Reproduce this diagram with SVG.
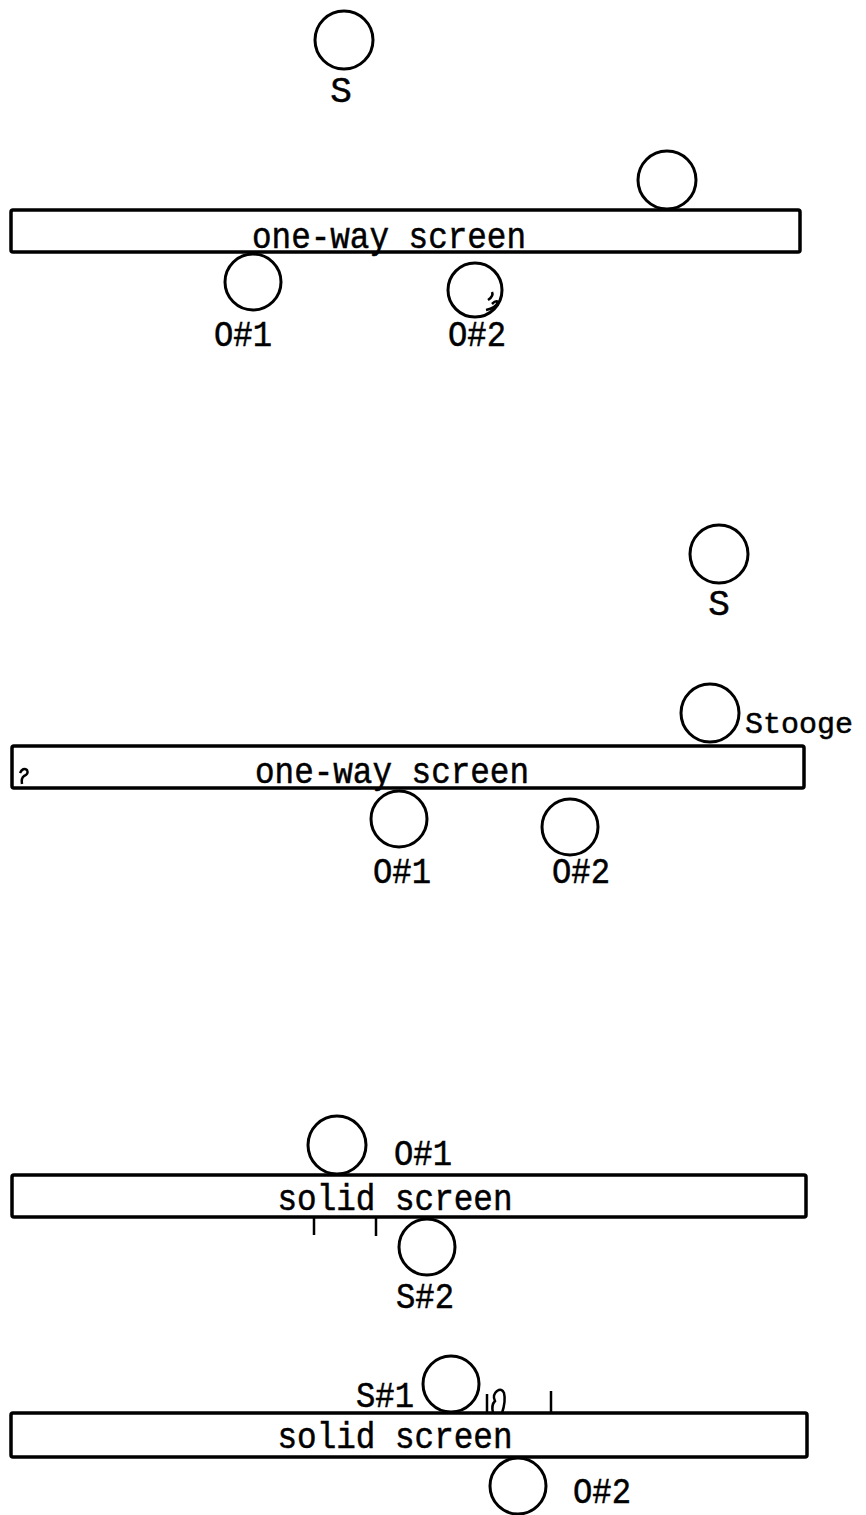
<svg xmlns="http://www.w3.org/2000/svg" width="866" height="1515" viewBox="0 0 866 1515">
<style>
.c{fill:none;stroke:#000;stroke-width:3}
.s{fill:#fff;stroke:#000;stroke-width:3.5}
.t{font-family:"Liberation Mono","Courier New",monospace;font-size:36px;fill:#000;stroke:#000;stroke-width:0.5;text-anchor:middle}
.m{fill:none;stroke:#000;stroke-width:2.5}
</style>
<rect width="866" height="1515" fill="#fff"/>
<g id="panel1">
  <g id="p1-screen"><rect class="s" x="11" y="210" width="789" height="42" rx="2"/><text class="t" x="389" y="248" textLength="274" lengthAdjust="spacingAndGlyphs">one-way screen</text></g>
  <g id="p1-S"><circle class="c" cx="344" cy="40" r="29"/><text class="t" x="341" y="102">S</text></g>
  <g id="p1-top"><circle class="c" cx="667" cy="180" r="29"/></g>
  <g id="p1-O1"><circle class="c" cx="253" cy="282" r="28"/><text class="t" x="243" y="346" textLength="58" lengthAdjust="spacingAndGlyphs">O#1</text></g>
  <g id="p1-O2"><circle class="c" cx="475" cy="290" r="27"/><path class="m" d="M488 300 q6 -4 4 -8 M486 310 q10 -2 12 -8 q-2 -2 -6 2" stroke-width="1.2"/><text class="t" x="477" y="346" textLength="58" lengthAdjust="spacingAndGlyphs">O#2</text></g>
</g>
<g id="panel2">
  <g id="p2-screen"><rect class="s" x="12" y="746" width="792" height="42" rx="2"/><text class="t" x="392" y="783" textLength="274" lengthAdjust="spacingAndGlyphs">one-way screen</text><path class="m" d="M20 773 q3 -6 7 -3 q2 4 -3 6 q-3 2 -2 8" stroke-width="1.5"/></g>
  <g id="p2-S"><circle class="c" cx="719" cy="554" r="29"/><text class="t" x="719" y="615">S</text></g>
  <g id="p2-stooge"><circle class="c" cx="710" cy="713" r="29"/><text class="t" x="745" y="733" style="font-size:30px;text-anchor:start">Stooge</text></g>
  <g id="p2-O1"><circle class="c" cx="399" cy="819" r="28"/><text class="t" x="402" y="883" textLength="58" lengthAdjust="spacingAndGlyphs">O#1</text></g>
  <g id="p2-O2"><circle class="c" cx="570" cy="827" r="28"/><text class="t" x="581" y="883" textLength="58" lengthAdjust="spacingAndGlyphs">O#2</text></g>
</g>
<g id="panel3">
  <g id="p3-screen"><rect class="s" x="12" y="1175" width="794" height="42" rx="2"/><text class="t" x="395" y="1210" textLength="235" lengthAdjust="spacingAndGlyphs">solid screen</text></g>
  <g id="p3-O1"><circle class="c" cx="337" cy="1145" r="29"/><text class="t" x="423" y="1165" textLength="58" lengthAdjust="spacingAndGlyphs">O#1</text></g>
  <g id="p3-S2"><circle class="c" cx="427" cy="1247" r="28"/><text class="t" x="425" y="1308" textLength="58" lengthAdjust="spacingAndGlyphs">S#2</text></g>
  <g id="p3-ticks"><path class="m" d="M314 1218 V1235 M376 1218 V1236"/></g>
</g>
<g id="panel4">
  <g id="p4-screen"><rect class="s" x="11" y="1413" width="796" height="44" rx="2"/><text class="t" x="395" y="1448" textLength="235" lengthAdjust="spacingAndGlyphs">solid screen</text></g>
  <g id="p4-S1"><circle class="c" cx="451" cy="1384" r="28"/><text class="t" x="385" y="1407" textLength="58" lengthAdjust="spacingAndGlyphs">S#1</text></g>
  <g id="p4-O2"><circle class="c" cx="518" cy="1486" r="28"/><text class="t" x="602" y="1503" textLength="58" lengthAdjust="spacingAndGlyphs">O#2</text></g>
  <g id="p4-marks"><path class="m" d="M487 1394 V1413 M493 1413 q-2 -8 2 -12 q-3 -6 2 -10 q5 -3 7 2 q2 8 -2 20" stroke-width="2"/><path class="m" d="M551 1391 V1413"/></g>
</g>
</svg>
